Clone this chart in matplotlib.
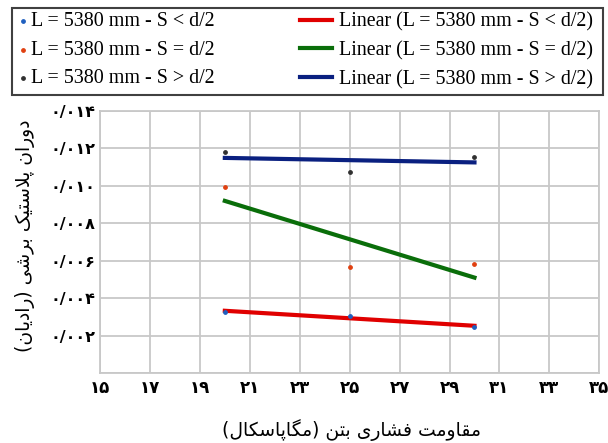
import numpy as np
import matplotlib
matplotlib.use("Agg")
import matplotlib.pyplot as plt
from matplotlib.patches import Rectangle

# داده‌ها (خوانده شده از نمودار)
x_mpa = [20, 25, 30]
rot_less = [0.00327, 0.00306, 0.00247]    # S<d/2
rot_equal = [0.00992, 0.00569, 0.00583]   # S=d/2
rot_more = [0.01179, 0.01075, 0.01155]    # S>d/2

series_labels = ["L = 5380 mm - S < d/2", "L = 5380 mm - S = d/2", "L = 5380 mm - S > d/2"]
x_ticks = list(range(15, 36, 2))
y_ticks = [0, 0.002, 0.004, 0.006, 0.008, 0.010, 0.012, 0.014]

x_title = "مقاومت فشاری بتن (مگاپاسکال)"
y_title = "دوران پلاستیک برشی (رادیان)"

# شکل‌دهی حروف فارسی (matplotlib خودش انجام نمی‌دهد)
FORMS = {
    "\u0627": ("\uFE8D", "\uFE8E", None, None),
    "\u0628": ("\uFE8F", "\uFE90", "\uFE91", "\uFE92"),
    "\u062A": ("\uFE95", "\uFE96", "\uFE97", "\uFE98"),
    "\u062F": ("\uFEA9", "\uFEAA", None, None),
    "\u0631": ("\uFEAD", "\uFEAE", None, None),
    "\u0633": ("\uFEB1", "\uFEB2", "\uFEB3", "\uFEB4"),
    "\u0634": ("\uFEB5", "\uFEB6", "\uFEB7", "\uFEB8"),
    "\u0641": ("\uFED1", "\uFED2", "\uFED3", "\uFED4"),
    "\u0642": ("\uFED5", "\uFED6", "\uFED7", "\uFED8"),
    "\u0644": ("\uFEDD", "\uFEDE", "\uFEDF", "\uFEE0"),
    "\u0645": ("\uFEE1", "\uFEE2", "\uFEE3", "\uFEE4"),
    "\u0646": ("\uFEE5", "\uFEE6", "\uFEE7", "\uFEE8"),
    "\u0648": ("\uFEED", "\uFEEE", None, None),
    "\u06CC": ("\uFBFC", "\uFBFD", "\uFBFE", "\uFBFF"),
    "\u067E": ("\uFB56", "\uFB57", "\uFB58", "\uFB59"),
    "\u06A9": ("\uFB8E", "\uFB8F", "\uFB90", "\uFB91"),
    "\u06AF": ("\uFB92", "\uFB93", "\uFB94", "\uFB95"),
}


def joins_next(c):
    return c in FORMS and FORMS[c][2] is not None


def persian(text):
    out = []
    i = 0
    n = len(text)
    while i < n:
        c = text[i]
        prev = text[i - 1] if i > 0 else ""
        nxt = text[i + 1] if i + 1 < n else ""
        if c not in FORMS:
            out.append(c)
            i += 1
            continue
        cp = joins_next(prev)
        if c == "\u0644" and nxt == "\u0627":
            out.append("\uFEFC" if cp else "\uFEFB")
            i += 2
            continue
        cn = joins_next(c) and nxt in FORMS
        f = FORMS[c]
        if cp and cn:
            out.append(f[3])
        elif cp:
            out.append(f[1])
        elif cn:
            out.append(f[2])
        else:
            out.append(f[0])
        i += 1
    mirror = {"(": ")", ")": "("}
    return "".join(mirror.get(ch, ch) for ch in reversed(out))


def fa_digits(s):
    return s.translate(str.maketrans("0123456789.", "۰۱۲۳۴۵۶۷۸۹/"))


fig = plt.figure(figsize=(6.08, 4.43), dpi=100)
ax = fig.add_axes([100 / 608, 1 - 373.3 / 443, 499.3 / 608, 262.6 / 443])

# نقاط و خط روند
ax.scatter(x_mpa, rot_less, s=6, color="#1f5fbf", zorder=4, label=series_labels[0])
ax.scatter(x_mpa, rot_equal, s=6, color="#e04010", zorder=4, label=series_labels[1])
ax.scatter(x_mpa, rot_more, s=6, color="#303030", zorder=4, label=series_labels[2])

line_colors = ["#e00000", "#0a6e0a", "#0a2080"]
line_handles = []
for ys, col, lab in zip([rot_less, rot_equal, rot_more], line_colors, series_labels):
    k, b = np.polyfit(x_mpa, ys, 1)
    xs = np.array([min(x_mpa), max(x_mpa)])
    h, = ax.plot(xs, k * xs + b, color=col, lw=3, zorder=3, label="Linear (" + lab + ")")
    line_handles.append(h)

ax.set_xlim(15, 35)
ax.set_ylim(0, 0.014)
ax.set_xticks(x_ticks)
ax.set_xticklabels([fa_digits(str(v)) for v in x_ticks], fontsize=12, fontweight="bold",
                   family=["DejaVu Sans"])
ax.set_yticks(y_ticks)
ax.set_yticklabels([""] + [fa_digits("%.3f" % v) for v in y_ticks[1:]], fontsize=11.5,
                   fontweight="bold", family=["DejaVu Sans"])
ax.tick_params(axis="y", length=0, pad=3)
ax.tick_params(axis="x", length=0, pad=4)
ax.grid(color="#c8c8c8", lw=1.3)
ax.set_axisbelow(True)
for sp in ax.spines.values():
    sp.set_color("#c8c8c8")
    sp.set_linewidth(1.3)

fig.text(351 / 608, 1 - 430 / 443, persian(x_title), ha="center", va="center",
         fontsize=13.5, family=["DejaVu Sans"])
fig.text(25 / 608, 1 - 236 / 443, persian(y_title), ha="center", va="center",
         rotation=90, fontsize=13.5, family=["DejaVu Sans"])

# راهنما
pts = ax.collections[:3]
leg1 = fig.legend(pts, series_labels, loc="upper left", bbox_to_anchor=(18.7 / 608, 1 - 12.5 / 443),
                  frameon=False, scatterpoints=1, handlelength=0.4, handletextpad=0.2,
                  borderpad=0, borderaxespad=0, labelspacing=0.47,
                  prop={"family": "Liberation Serif", "size": 14.4})
leg2 = fig.legend(line_handles, [h.get_label() for h in line_handles], loc="upper left",
                  bbox_to_anchor=(300 / 608, 1 - 12.5 / 443), frameon=False, handlelength=1.6,
                  handletextpad=0.35, borderpad=0, borderaxespad=0, labelspacing=0.47,
                  prop={"family": "Liberation Serif", "size": 14.4})
fig.add_artist(Rectangle((11.7 / 608, 1 - 95 / 443), (603 - 11.7) / 608, 87 / 443,
                         transform=fig.transFigure, fill=False, ec="#404040", lw=1.5))

fig.savefig("out.png", dpi=100)
